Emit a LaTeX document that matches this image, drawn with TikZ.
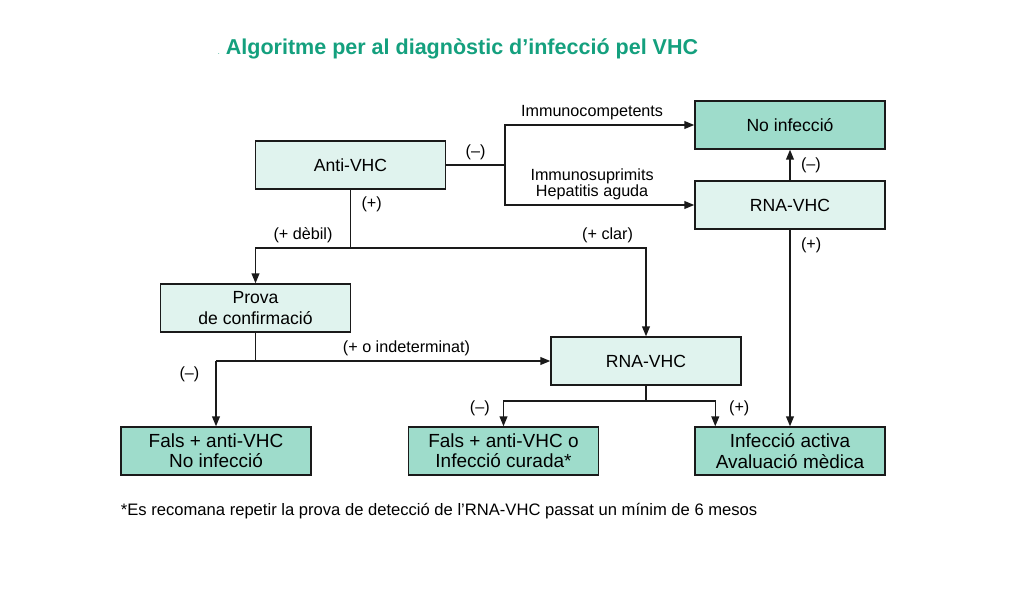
\documentclass[tikz,border=0pt]{standalone}
\usepackage{fontspec}
\setmainfont{Liberation Sans}
\usetikzlibrary{arrows.meta}
\definecolor{titlegreen}{HTML}{14A07E}
\definecolor{boxlight}{HTML}{E0F3EE}
\definecolor{boxdark}{HTML}{9EDCCB}
\definecolor{linegray}{HTML}{1A1A1A}
\begin{document}
\begin{tikzpicture}[x=0.025cm, y=-0.025cm, font=\fontsize{11.5}{13}\selectfont,
    box/.style={draw=linegray, line width=1pt, minimum width=4.75cm, minimum height=1.2cm, align=center, inner sep=2pt},
    lightbox/.style={box, fill=boxlight, font=\fontsize{12.5}{14.5}\selectfont},
    darkbox/.style={box, fill=boxdark},
    endbox/.style={darkbox, font=\fontsize{13.5}{14.5}\selectfont},
    link/.style={draw=linegray, line width=1pt},
    arr/.style={link, -{Triangle[length=7pt, width=5.5pt]}}]
    \path[use as bounding box, fill=white] (0,0) rectangle (1024,597);

    % Title
    \node[anchor=west, text=titlegreen, font=\bfseries\fontsize{15.3}{17}\selectfont] (titol) at (213,49) {{\mdseries\tiny.}\ Algoritme per al diagnòstic d’infecció pel VHC};

    % Boxes
    \node[lightbox] (anti) at (350.5,165) {Anti-VHC};
    \node[darkbox, font=\fontsize{12.5}{14.5}\selectfont] (noinf) at (790,125) {No infecció};
    \node[lightbox] (rnaR) at (790,205) {RNA-VHC};
    \node[lightbox] (prova) at (255.5,308) {Prova\\de confirmació};
    \node[lightbox] (rnaM) at (646,361) {RNA-VHC};
    \node[endbox] (fals) at (216,451) {Fals + anti-VHC\\No infecció};
    \node[endbox] (curada) at (503.5,451) {Fals + anti-VHC o\\Infecció curada*};
    \node[endbox] (activa) at (790,451) {Infecció activa\\Avaluació mèdica};

    % Branch points
    \coordinate (splitA) at (505,165);
    \coordinate (splitB) at (anti.south |- 0,248);
    \coordinate (turnC) at (216,361);
    \coordinate (joinC) at (prova.south |- turnC);
    \coordinate (splitD) at (rnaM.south |- 0,401);
    \coordinate (inD) at ([xshift=0.525cm]activa.north west);

    % Connectors
    \draw[link] (anti.east) -- node[above] {(–)} (splitA);
    \draw[arr] (splitA) |- node[pos=0.73, above] {Immunocompetents} (noinf.west);
    \draw[arr] (splitA) |- node[pos=0.73, above, align=center, font=\fontsize{11.5}{11}\selectfont] {Immunosuprimits\\Hepatitis aguda} (rnaR.west);
    \draw[arr] (rnaR.north) -- node[right, xshift=4pt] {(–)} (noinf.south);
    \draw[arr] (rnaR.south) -- node[pos=0.08, right, xshift=4pt] {(+)} (activa.north);

    \draw[link] (anti.south) -- node[pos=0.25, right, xshift=4pt] {(+)} (splitB);
    \draw[arr] (splitB) -| node[pos=0.25, above] {(+ dèbil)} (prova.north);
    \draw[arr] (splitB) -| node[pos=0.435, above] {(+ clar)} (rnaM.north);

    \draw[link] (prova.south) -- (joinC);
    \draw[arr] (turnC) -- node[pos=0.57, above] {(+ o indeterminat)} (rnaM.west);
    \draw[arr] (turnC) -- node[pos=0.2, left, xshift=-8pt] {(–)} (fals.north);

    \draw[link] (rnaM.south) -- (splitD);
    \draw[arr] (splitD) -| node[pos=0.65, left, xshift=-6pt] {(–)} (curada.north);
    \draw[arr] (splitD) -| node[pos=0.65, right, xshift=6pt] {(+)} (inD);

    % Footnote
    \node[anchor=west, font=\fontsize{11.8}{14}\selectfont] (nota) at (116,511) {*Es recomana repetir la prova de detecció de l’RNA-VHC passat un mínim de 6 mesos};
\end{tikzpicture}
\end{document}
